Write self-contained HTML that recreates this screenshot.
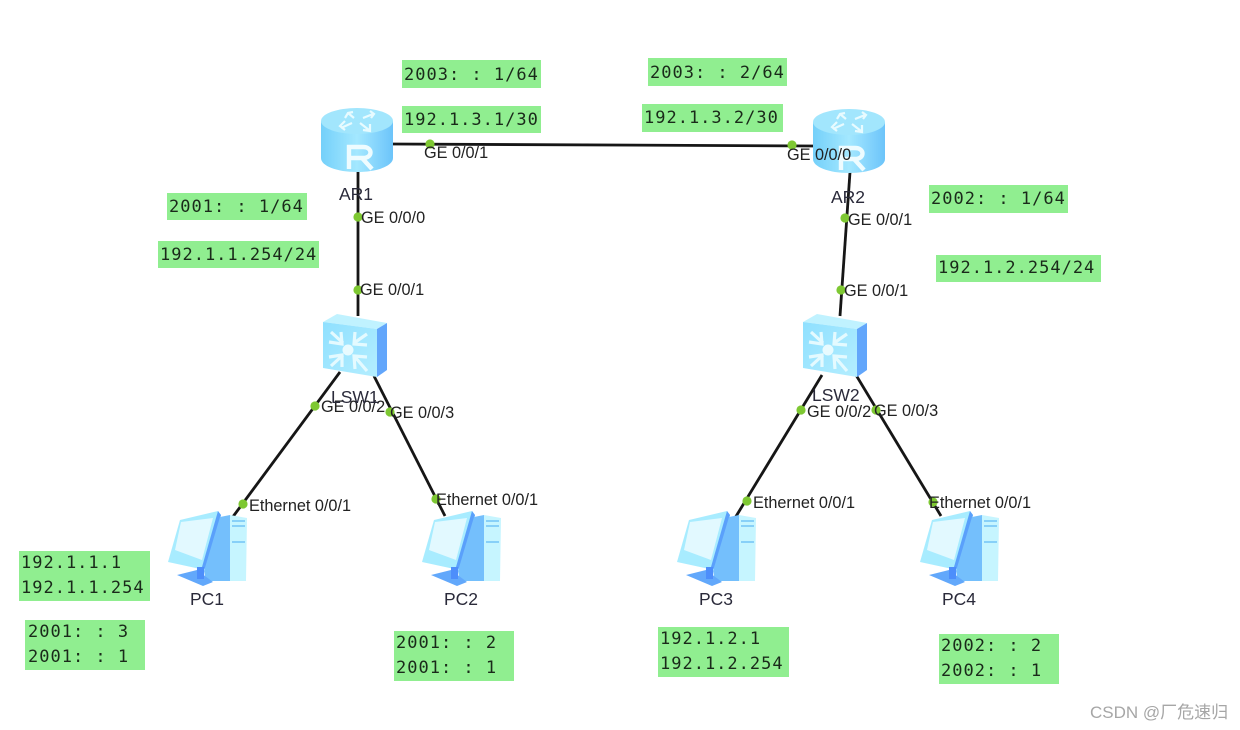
<!DOCTYPE html>
<html><head><meta charset="utf-8"><style>
html,body{margin:0;padding:0;background:#fff;width:1240px;height:730px;overflow:hidden}
svg{display:block}
.m{font-family:"DejaVu Sans Mono",monospace;font-size:17px;fill:#1a2a1a;letter-spacing:1px}
.l{font-family:"Liberation Sans",sans-serif;font-size:16.3px;fill:#222;letter-spacing:-.02px}
.n{font-family:"Liberation Sans",sans-serif;font-size:17.5px;fill:#2a2a3a}
</style></head><body>
<svg width="1240" height="730" viewBox="0 0 1240 730" xmlns="http://www.w3.org/2000/svg">
<defs>
<linearGradient id="rg" x1="0" x2="1" y1="0" y2="0"><stop offset="0" stop-color="#74d0fa"/><stop offset=".5" stop-color="#a4e8ff"/><stop offset="1" stop-color="#6cc4fa"/></linearGradient>
<linearGradient id="sg" x1="0" x2="1" y1="0" y2="1"><stop offset="0" stop-color="#8fe0ff"/><stop offset="1" stop-color="#b4eeff"/></linearGradient>
<g id="router">
<path d="M0 13 V50 C0 58 16 64 36 64 C56 64 72 58 72 50 V13Z" fill="url(#rg)"/>
<ellipse cx="36" cy="13" rx="36" ry="13" fill="#a2e6fd"/>
<g stroke="#e8fbff" stroke-width="2.2" fill="none"><path d="M27 5 L33 10M24 10 L27 5 L32 4"/><path d="M52 6 L42 10M49 3 L53 6 L50 10"/><path d="M20 20 L31 15M24 13 L19 18 L24 22"/><path d="M48 22 L39 15M42 22 L49 23 L49 16"/></g>
<path d="M28 61 V39 H42 C52 39 52 50 42 50 H28 M41 50 L51 61" stroke="#eefcff" stroke-width="4.4" fill="none"/>
</g>
<g id="switch">
<path d="M1 7 L15 -1 L65 8 L55 14Z" fill="#c0f2ff"/>
<path d="M1 7 L55 14 V62 L1 53Z" fill="url(#sg)"/>
<path d="M55 14 L65 8 V55 L55 62Z" fill="#62a6fb"/>
<circle cx="26" cy="35" r="5.5" fill="#e8fbff"/>
<g stroke="#e4faff" stroke-width="3.2" fill="none"><path d="M9 17 L21 28M7 27 L20 29 L19 17"/><path d="M45 19 L32 28M33 17 L32 29 L45 30"/><path d="M9 51 L21 40M7 42 L20 40 L20 52"/><path d="M45 56 L33 42M33 54 L32 41 L45 42"/></g>
</g>
<g id="pc">
<path d="M12 9 L50 0 L53 4 L37 59 L0 51Z" fill="#a8ecff"/>
<path d="M13 11 L45 7 L34 49 L7 39Z" fill="#e2f9ff"/>
<path d="M50 0 L53 4 L38 59 L34 56Z" fill="#5aa0fb"/>
<path d="M52 6 L62 4 V70 L38 70 L36 60Z" fill="#74bffc"/>
<path d="M62 4 L79 7 L78 70 L62 70Z" fill="#c6f5ff"/>
<path d="M64 10 H77 M64 15 H77 M64 31 H77" stroke="#72c4f5" stroke-width="1.5"/>
<path d="M9 64 L29 59 L45 71 L35 75Z" fill="#62a8fb"/>
<path d="M29 56 H36 V68 H29Z" fill="#4d8efb"/>
</g>
</defs>
<rect width="1240" height="730" fill="#fff"/>

<g stroke="#161616" stroke-width="2.8" fill="none">
<line x1="392" y1="144" x2="815" y2="146"/>
<line x1="358" y1="170" x2="358" y2="316"/>
<line x1="850" y1="172" x2="840" y2="316"/>
<line x1="340" y1="372" x2="232" y2="518"/>
<line x1="374" y1="376" x2="445" y2="516"/>
<line x1="822" y1="375" x2="735" y2="518"/>
<line x1="856" y1="375" x2="941" y2="516"/>
</g>

<use href="#router" x="321" y="108"/>
<use href="#router" x="813" y="109"/>
<use href="#switch" x="322" y="315"/>
<use href="#switch" x="802" y="315"/>
<use href="#pc" x="168" y="511"/>
<use href="#pc" x="422" y="511"/>
<use href="#pc" x="677" y="511"/>
<use href="#pc" x="920" y="511"/>

<g fill="#7ec832">
<circle cx="430" cy="144" r="4.6"/><circle cx="792" cy="145" r="4.6"/>
<circle cx="358" cy="217" r="4.6"/><circle cx="358" cy="290" r="4.6"/>
<circle cx="845" cy="218" r="4.6"/><circle cx="841" cy="290" r="4.6"/>
<circle cx="315" cy="406" r="4.6"/><circle cx="390" cy="412" r="4.6"/>
<circle cx="801" cy="410" r="4.6"/><circle cx="876" cy="410" r="4.6"/>
<circle cx="243" cy="504" r="4.6"/><circle cx="436" cy="499" r="4.6"/>
<circle cx="747" cy="501" r="4.6"/><circle cx="933" cy="502" r="4.6"/>
</g>

<g fill="#90ee90">
<rect x="402" y="60" width="139" height="28"/>
<rect x="402" y="106" width="139" height="27"/>
<rect x="648" y="58" width="139" height="28"/>
<rect x="642" y="104" width="141" height="28"/>
<rect x="167" y="193" width="140" height="27"/>
<rect x="158" y="241" width="161" height="27"/>
<rect x="929" y="185" width="139" height="28"/>
<rect x="936" y="255" width="165" height="27"/>
<rect x="19" y="551" width="131" height="50"/>
<rect x="25" y="620" width="120" height="50"/>
<rect x="394" y="631" width="120" height="50"/>
<rect x="658" y="627" width="131" height="50"/>
<rect x="939" y="634" width="120" height="50"/>
</g>

<g class="m">
<text class="m" x="404" y="80">2003: : 1/64</text>
<text class="m" x="404" y="125">192.1.3.1/30</text>
<text class="m" x="650" y="78">2003: : 2/64</text>
<text class="m" x="644" y="123">192.1.3.2/30</text>
<text class="m" x="169" y="212">2001: : 1/64</text>
<text class="m" x="160" y="260">192.1.1.254/24</text>
<text class="m" x="931" y="204">2002: : 1/64</text>
<text class="m" x="938" y="273">192.1.2.254/24</text>
<text class="m" x="21" y="568">192.1.1.1</text>
<text class="m" x="21" y="593">192.1.1.254</text>
<text class="m" x="28" y="637">2001: : 3</text>
<text class="m" x="28" y="662">2001: : 1</text>
<text class="m" x="396" y="648">2001: : 2</text>
<text class="m" x="396" y="673">2001: : 1</text>
<text class="m" x="660" y="644">192.1.2.1</text>
<text class="m" x="660" y="669">192.1.2.254</text>
<text class="m" x="941" y="651">2002: : 2</text>
<text class="m" x="941" y="676">2002: : 1</text>
</g>

<g>
<text class="l" x="424" y="158">GE 0/0/1</text>
<text class="l" x="787" y="160">GE 0/0/0</text>
<text class="l" x="361" y="223">GE 0/0/0</text>
<text class="l" x="360" y="295">GE 0/0/1</text>
<text class="l" x="848" y="225">GE 0/0/1</text>
<text class="l" x="844" y="296">GE 0/0/1</text>
<text class="l" x="321" y="412">GE 0/0/2</text>
<text class="l" x="390" y="418">GE 0/0/3</text>
<text class="l" x="807" y="417">GE 0/0/2</text>
<text class="l" x="874" y="416">GE 0/0/3</text>
<text class="l" x="249" y="511">Ethernet 0/0/1</text>
<text class="l" x="436" y="505">Ethernet 0/0/1</text>
<text class="l" x="753" y="508">Ethernet 0/0/1</text>
<text class="l" x="929" y="508">Ethernet 0/0/1</text>
<text class="n" x="339" y="200">AR1</text>
<text class="n" x="831" y="203">AR2</text>
<text class="n" x="331" y="403">LSW1</text>
<text class="n" x="812" y="401">LSW2</text>
<text class="n" x="190" y="605">PC1</text>
<text class="n" x="444" y="605">PC2</text>
<text class="n" x="699" y="605">PC3</text>
<text class="n" x="942" y="605">PC4</text>
</g>

<text x="1090" y="718" style="font-family:'Liberation Sans','Noto Sans CJK SC',sans-serif;font-size:17px;fill:#a6a6a6">CSDN @厂危速归</text>
</svg>
</body></html>
